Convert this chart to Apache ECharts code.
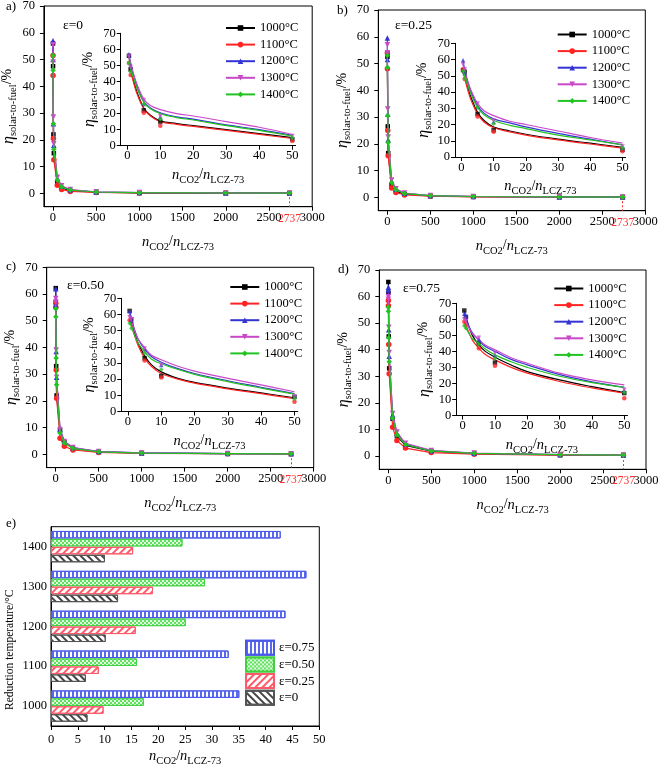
<!DOCTYPE html>
<html><head><meta charset="utf-8">
<script src="https://cdn.jsdelivr.net/npm/echarts@6/dist/echarts.min.js"></script>
<style>html,body{margin:0;padding:0;background:#fff}#c{width:661px;height:767px}</style>
</head><body><div id="c"></div>
<script>
// ---------- data ----------
const temps = ['1000°C', '1100°C', '1200°C', '1300°C', '1400°C'];
const xPoints = [0.5, 1, 5, 10, 50, 100, 200, 500, 1000, 2000, 2737];
const xCurve = [0.5, 1, 2, 3, 5, 7, 10, 15, 20, 30, 40, 50];
const epsLabels = ['ε=0', 'ε=0.25', 'ε=0.50', 'ε=0.75'];
const panelLetters = ['a)', 'b)', 'c)', 'd)'];
const mainXTicks = [0, 500, 1000, 1500, 2000, 2500, 3000];
const mainYTicks = [0, 10, 20, 30, 40, 50, 60, 70];
const insetXTicks = [0, 10, 20, 30, 40, 50];
const cutoffValue = 2737;

// measured points (rows: 1000..1400 °C, columns: xPoints)
const pointsEps0 = [
  [56, 47.5, 22, 15, 4, 2, 1, 0.4, 0.2, 0.1, 0.07],
  [51.5, 44, 20.5, 12.5, 3, 1.4, 0.7, 0.3, 0.15, 0.08, 0.05],
  [57, 50, 26, 18, 5.5, 2.6, 1.3, 0.5, 0.25, 0.13, 0.1],
  [55.5, 49, 28.5, 18.5, 6, 2.8, 1.4, 0.55, 0.3, 0.14, 0.1],
  [51.5, 46, 26, 16.5, 5, 2.4, 1.2, 0.5, 0.25, 0.12, 0.09]
];
const pointsEps025 = [
  [53.5, 52.5, 26.5, 16.5, 4.5, 2.2, 1.2, 0.5, 0.25, 0.12, 0.1],
  [54, 48, 25, 15.5, 3.5, 1.8, 0.9, 0.4, 0.2, 0.1, 0.08],
  [59.5, 51.5, 31, 21.5, 6, 3, 1.5, 0.6, 0.3, 0.15, 0.11],
  [57, 54, 33, 22.5, 6.5, 3.2, 1.6, 0.65, 0.33, 0.16, 0.12],
  [53, 48.5, 30.5, 20.5, 5.5, 2.8, 1.4, 0.6, 0.3, 0.15, 0.11]
];
const pointsEps050 = [
  [62.2, 57, 33, 22, 9, 4.5, 2.2, 0.9, 0.45, 0.22, 0.16],
  [56.5, 55, 31.5, 21, 6, 3, 1.6, 0.7, 0.35, 0.18, 0.13],
  [62, 56, 38.5, 28.8, 9.3, 4.8, 2.5, 1, 0.5, 0.25, 0.18],
  [58.3, 57, 39, 28.8, 9.3, 4.8, 2.5, 1, 0.5, 0.25, 0.18],
  [54.5, 51.5, 36, 26, 8, 4.2, 2.2, 0.9, 0.45, 0.23, 0.17]
];
const pointsEps075 = [
  [65.5, 61.5, 45, 33, 14, 7.5, 4, 1.8, 0.9, 0.45, 0.35],
  [58.5, 56.5, 42, 31, 10.8, 5.8, 3, 1.3, 0.7, 0.35, 0.27],
  [63.5, 62.5, 47.5, 37.5, 15.4, 8.5, 4.5, 2, 1, 0.5, 0.38],
  [60, 59, 48.5, 39, 16, 9, 4.8, 2.1, 1.1, 0.55, 0.4],
  [56, 54.5, 44.5, 35.5, 14.3, 8, 4.3, 1.9, 1, 0.5, 0.37]
];
// fitted curves in insets (rows: 1000..1400 °C, columns: xCurve)
const curveEps0 = [
  [55.5, 49, 40, 33, 23.5, 19, 15.5, 13.8, 12.5, 10, 7.5, 5],
  [52, 46.5, 38.5, 32, 23, 18.5, 15, 13.3, 12, 9.5, 7, 4.5],
  [57, 51.5, 43, 36.5, 27.5, 23.5, 20.5, 18, 16.5, 13, 10, 6.5],
  [56, 51.5, 44, 38, 29, 25, 22.5, 20, 18.5, 15, 11.5, 7],
  [52, 48, 41.5, 35.5, 27, 23, 20, 17.5, 16, 12.5, 9.5, 6]
];
const curveEps025 = [
  [54, 51, 43, 36.5, 27.5, 22.5, 18.5, 16, 14, 11, 8.5, 6],
  [53, 48.5, 41, 35, 26.5, 21.5, 18, 15.5, 13.5, 10.5, 8, 5.5],
  [59, 54, 46, 40, 31.5, 27, 23.5, 21, 18.5, 14.5, 11, 7.5],
  [57, 53.5, 46.5, 41, 33, 28.5, 25.5, 22, 20, 16, 12, 8.5],
  [53, 50, 44, 38.5, 30.5, 26, 22.5, 19.5, 17.5, 13.5, 10.5, 7.5]
];
const curveEps050 = [
  [60, 56.5, 48.5, 42.5, 34.5, 29, 24.5, 20.5, 18, 14.5, 11.5, 8.5],
  [57, 54, 47, 41, 33, 28, 23.5, 20, 17.5, 14, 11, 8],
  [62, 58, 50.5, 45, 38.5, 34, 30.5, 26.5, 23.5, 19, 15, 11],
  [58.5, 56, 50, 45, 39.5, 35, 32, 28, 25, 20.5, 16.5, 12.2],
  [55, 52.5, 47, 42.5, 37, 32.5, 29.5, 26, 23, 18.5, 14.5, 10.7]
];
const curveEps075 = [
  [65, 61.5, 55, 50, 44, 40, 36.4, 31.5, 27.4, 22.2, 18, 14.3],
  [59, 56.5, 51.5, 47, 42, 38, 34.7, 30, 26.4, 21.2, 17.2, 13.9],
  [64, 61, 55.5, 51.5, 47, 43, 40, 35, 31.6, 25.5, 21, 17.6],
  [60, 58.5, 54.5, 51, 47.6, 44, 41, 36, 32.6, 26.4, 22.2, 19.1],
  [56, 54.5, 51, 48, 45, 41.5, 37.8, 33.5, 30, 24.5, 20.5, 17.6]
];
// panel e
const barCats = ['1000', '1100', '1200', '1300', '1400'];
const barEpsNames = ['ε=0', 'ε=0.25', 'ε=0.50', 'ε=0.75'];
const barEps0 = [6.8, 6.5, 10.2, 12.5, 10.05];
const barEps025 = [9.8, 8.9, 15.8, 19, 15.3];
const barEps050 = [17.3, 16, 25.1, 28.7, 24.5];
const barEps075 = [35.1, 33.1, 43.7, 47.6, 42.8];

// ---------- styles / layout ----------
const F = 'Liberation Serif';
const colors = ['#000000', '#ff2424', '#3434d4', '#c848c8', '#22c322'];
const symbols = ['rect', 'circle', 'triangle', 'triangle', 'diamond'];
const symbolRot = [0, 0, 0, 180, 0];
const allPoints = [pointsEps0, pointsEps025, pointsEps050, pointsEps075];
const allCurves = [curveEps0, curveEps025, curveEps050, curveEps075];

const mains = [
  {left: 43.9, top: 6, width: 268.3, height: 200.7},
  {left: 378.3, top: 10, width: 267, height: 200.7},
  {left: 46.7, top: 267.3, width: 267, height: 200.3},
  {left: 379.3, top: 270, width: 266.7, height: 199.3}
];
const insets = [
  {left: 120.7, top: 33.3, width: 174.9, height: 112.4},
  {left: 455, top: 43.3, width: 170.7, height: 113.7},
  {left: 121.3, top: 298.3, width: 176.5, height: 113.2},
  {left: 456.2, top: 303.3, width: 171.3, height: 112.2}
];
const legendPos = [
  {left: 225, top: 21.5}, {left: 556.7, top: 28}, {left: 229.3, top: 280.5}, {left: 553.3, top: 282}
];
const epsPos = [{x: 63, y: 18}, {x: 395, y: 18}, {x: 67, y: 278}, {x: 403, y: 281}];
const letterPos = [{x: 6, y: 0}, {x: 337, y: 4}, {x: 6, y: 260}, {x: 338, y: 263}];

const rich = {
  eta: {fontFamily: F, fontStyle: 'italic', fontSize: 16, lineHeight: 16, verticalAlign: 'top', color: '#000'},
  itn: {fontFamily: F, fontStyle: 'italic', fontSize: 14.5, lineHeight: 16, verticalAlign: 'top', color: '#000'},
  n: {fontFamily: F, fontSize: 14, lineHeight: 16, verticalAlign: 'top', color: '#000'},
  sub: {fontFamily: F, fontSize: 10.5, lineHeight: 18, verticalAlign: 'bottom', color: '#000'}
};
const yName = '{eta|η}{sub|solar-to-fuel}{n|/%}';
const xName = '{itn|n}{sub|CO2}{n|/}{itn|n}{sub|LCZ-73}';
const plain = v => String(v);

const lineBlack = {show: true, onZero: false, lineStyle: {color: '#000', width: 1}};
const labelStyle = {fontFamily: F, fontSize: 12.5, color: '#000', formatter: plain};

const grid = [], xAxis = [], yAxis = [], series = [], legend = [], graphic = [];

for (let p = 0; p < 4; p++) {
  grid.push(Object.assign({show: true, borderColor: '#000', borderWidth: 1, backgroundColor: 'transparent', outerBoundsMode: 'none', containLabel: false}, mains[p]));
  xAxis.push({gridIndex: p, type: 'value', min: -105, max: 3000, axisLine: lineBlack,
    axisTick: {show: true, customValues: mainXTicks, length: 4, lineStyle: {color: '#000'}},
    axisLabel: Object.assign({customValues: mainXTicks, margin: 5}, labelStyle),
    splitLine: {show: false}, name: xName, nameLocation: 'middle', nameGap: 28,
    nameTextStyle: {rich}});
  yAxis.push({gridIndex: p, type: 'value', min: -5, max: 70, axisLine: lineBlack,
    axisTick: {show: true, customValues: mainYTicks, length: 4, lineStyle: {color: '#000'}},
    axisLabel: Object.assign({customValues: mainYTicks, margin: 9}, labelStyle),
    splitLine: {show: false}, name: yName, nameLocation: 'middle', nameGap: 21,
    nameTextStyle: {rich}});
}
for (let p = 0; p < 4; p++) {
  grid.push(Object.assign({show: false, outerBoundsMode: 'none', containLabel: false}, insets[p]));
  xAxis.push({gridIndex: 4 + p, type: 'value', min: -2, max: 51, axisLine: lineBlack,
    axisTick: {show: true, customValues: insetXTicks, length: 4, lineStyle: {color: '#000'}},
    axisLabel: Object.assign({customValues: insetXTicks, margin: 4}, labelStyle),
    splitLine: {show: false}, name: xName, nameLocation: 'middle', nameGap: 22,
    nameTextStyle: {rich}});
  yAxis.push({gridIndex: 4 + p, type: 'value', min: 0, max: 70, interval: 10, axisLine: lineBlack,
    axisTick: {show: true, length: 4, lineStyle: {color: '#000'}},
    axisLabel: Object.assign({margin: 5}, labelStyle),
    splitLine: {show: false}, name: yName, nameLocation: 'middle', nameGap: 17,
    nameTextStyle: {rich}});
}

// main series
for (let p = 0; p < 4; p++) {
  for (let t = 0; t < 5; t++) {
    const s = {
      type: 'line', name: temps[t], xAxisIndex: p, yAxisIndex: p,
      data: xPoints.map((x, k) => [x, allPoints[p][t][k]]),
      symbol: symbols[t], symbolRotate: symbolRot[t], symbolSize: t === 0 ? 4.5 : 5.5,
      showSymbol: true, itemStyle: {color: colors[t]},
      lineStyle: {color: colors[t], width: 1.2}, z: 2 + t
    };
    if (t === 4) {
      s.markLine = {
        silent: true, symbol: 'none', animation: false,
        lineStyle: {color: '#ff3030', type: [2, 2], width: 1},
        label: {show: true, position: 'end', formatter: String(cutoffValue), color: '#ff3030', fontFamily: F, fontSize: 11.5, distance: 6},
        data: [[{coord: [cutoffValue, 0]}, {coord: [cutoffValue, -5]}]]
      };
    }
    series.push(s);
  }
}
// inset series
for (let p = 0; p < 4; p++) {
  for (let t = 0; t < 5; t++) {
    series.push({
      type: 'line', name: temps[t], xAxisIndex: 4 + p, yAxisIndex: 4 + p,
      data: xCurve.map((x, k) => [x, allCurves[p][t][k]]),
      showSymbol: false, symbol: 'none', smooth: 0.4,
      lineStyle: {color: colors[t], width: 1.2}, z: 2 + t
    });
    series.push({
      type: 'scatter', name: temps[t], xAxisIndex: 4 + p, yAxisIndex: 4 + p,
      data: xPoints.slice(0, 5).map((x, k) => [x, allPoints[p][t][k]]),
      symbol: symbols[t], symbolRotate: symbolRot[t], symbolSize: 4.5,
      itemStyle: {color: colors[t]}, z: 3 + t
    });
  }
  legend.push(Object.assign({orient: 'vertical', padding: 0, data: temps, itemWidth: 29, itemHeight: 7, itemGap: 3.6,
    textStyle: {fontFamily: F, fontSize: 12.5, color: '#000', lineHeight: 12}}, legendPos[p]));
  graphic.push({type: 'text', x: epsPos[p].x, y: epsPos[p].y, style: {text: epsLabels[p], font: '13.5px "Liberation Serif"', fill: '#000'}});
  graphic.push({type: 'text', x: letterPos[p].x, y: letterPos[p].y, style: {text: panelLetters[p], font: '13px "Liberation Serif"', fill: '#000'}});
}

// panel e
grid.push({left: 51, top: 526.7, width: 268.3, height: 199.3, show: true, borderColor: '#000', borderWidth: 1, outerBoundsMode: 'none', containLabel: false});
xAxis.push({gridIndex: 8, type: 'value', min: 0, max: 50, interval: 5, axisLine: lineBlack,
  axisTick: {show: true, length: 4, lineStyle: {color: '#000'}},
  axisLabel: Object.assign({margin: 7}, labelStyle), splitLine: {show: false},
  name: xName, nameLocation: 'middle', nameGap: 23, nameTextStyle: {rich}});
yAxis.push({gridIndex: 8, type: 'category', data: barCats, axisLine: lineBlack,
  axisTick: {show: false}, axisLabel: Object.assign({margin: 4}, labelStyle), splitLine: {show: false}});

const barData = [barEps0, barEps025, barEps050, barEps075];
const barStyles = [
  {color: '#ffffff', borderColor: '#555555', decal: {symbol: 'rect', symbolSize: 1, color: '#444444', dashArrayX: [1, 0], dashArrayY: [1.2, 2.2], rotation: Math.PI / 4}},
  {color: '#ffffff', borderColor: '#ff5a6a', decal: {symbol: 'rect', symbolSize: 1, color: '#ff5a6a', dashArrayX: [1, 0], dashArrayY: [1.2, 2.2], rotation: -Math.PI / 4}},
  {color: '#5fe05f', borderColor: '#40d040', decal: {symbol: 'rect', symbolSize: 1, color: 'rgba(255,255,255,0.8)', dashArrayX: [[1.5, 1.5], [0, 1.5, 1.5, 0]], dashArrayY: [1.5, 0]}},
  {color: '#ffffff', borderColor: '#4a58e8', decal: {symbol: 'rect', symbolSize: 1, color: '#5a68ee', dashArrayX: [1.3, 1.7], dashArrayY: [5, 0]}}
];
// push in reverse so that ε=0.75 ends up on top of each group
for (let i = 3; i >= 0; i--) {
  series.push({
    type: 'bar', name: barEpsNames[i], xAxisIndex: 8, yAxisIndex: 8, data: barData[i],
    barWidth: 7.5, barGap: '6%', barCategoryGap: '20%',
    itemStyle: Object.assign({borderWidth: 1}, barStyles[i])
  });
}
legend.push({left: 245, top: 639.7, padding: 0, orient: 'vertical', icon: 'rect', itemWidth: 28, itemHeight: 14, itemGap: 0.7,
  data: ['ε=0.75', 'ε=0.50', 'ε=0.25', 'ε=0'], textStyle: {fontFamily: F, fontSize: 13, color: '#000', lineHeight: 14}});
graphic.push({type: 'text', x: 4, y: 710, rotation: Math.PI / 2, style: {text: 'Reduction temperature/°C', font: '11.5px "Liberation Serif"', fill: '#000'}});
graphic.push({type: 'text', x: 6, y: 517, style: {text: 'e)', font: '13px "Liberation Serif"', fill: '#000'}});

const chart = echarts.init(document.getElementById('c'), null, {renderer: 'canvas'});
chart.setOption({
  animation: false,
  backgroundColor: '#ffffff',
  textStyle: {fontFamily: F},
  grid, xAxis, yAxis, series, legend, graphic
});
</script></body></html>
